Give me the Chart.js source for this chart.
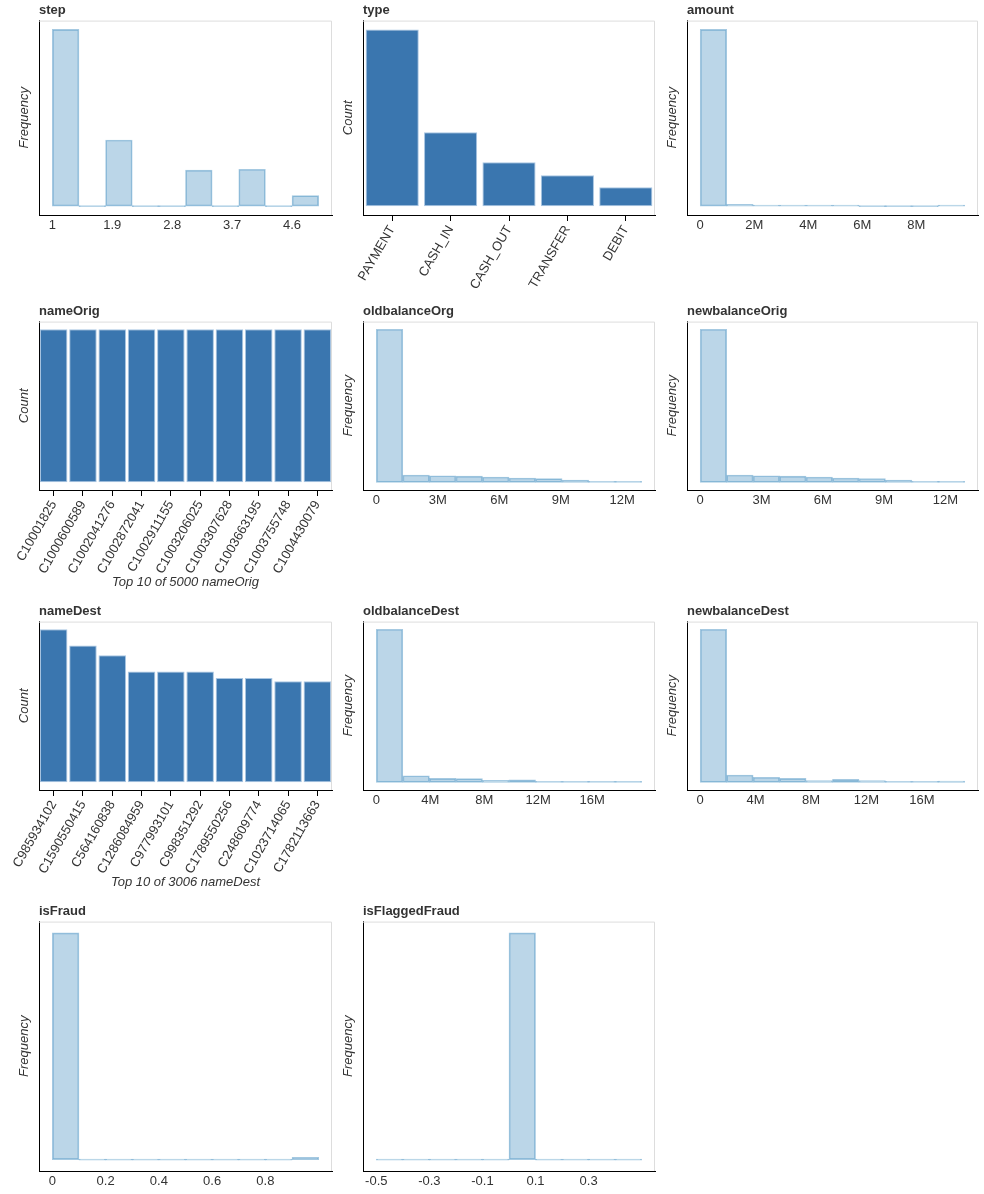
<!DOCTYPE html>
<html>
<head>
<meta charset="utf-8">
<title>Transaction columns overview</title>
<script src="https://cdn.jsdelivr.net/npm/chart.js@4.4.0/dist/chart.umd.min.js"></script>
<style>
  html, body { margin: 0; background: #fff; overflow: hidden; }
  #grid { position: relative; width: 984px; height: 1194px; overflow: hidden; }
  .cell { position: absolute; }
</style>
</head>
<body>
<div id="grid"></div>
<script>
// ---------- data ----------
const stepRange = [1, 5];
const stepCounts = [2708, 0, 1014, 0, 0, 552, 0, 565, 0, 161];
const stepTicks = [1, 1.9, 2.8, 3.7, 4.6];

const typeLabels = ["PAYMENT", "CASH_IN", "CASH_OUT", "TRANSFER", "DEBIT"];
const typeCounts = [2565, 1072, 639, 449, 275];

const amountRange = [0, 9.8e6];
const amountCounts = [4935, 52, 8, 2, 1, 1, 0, 0, 0, 1];
const amountTicks = [0, 2e6, 4e6, 6e6, 8e6];

const nameOrigLabels = ["C10001825", "C1000600589", "C1002041276", "C1002872041", "C1002911155",
    "C1003206025", "C1003307628", "C1003663195", "C1003755748", "C1004430079"];
const nameOrigCounts = [1, 1, 1, 1, 1, 1, 1, 1, 1, 1];

const oldbalanceOrgRange = [0, 12.95e6];
const oldbalanceOrgCounts = [4017, 193, 173, 165, 141, 113, 96, 60, 26, 16];
const newbalanceOrigRange = [0, 12.95e6];
const newbalanceOrigCounts = [4022, 193, 173, 165, 141, 113, 100, 60, 20, 13];
const origTicks = [0, 3e6, 6e6, 9e6, 12e6];

const nameDestLabels = ["C985934102", "C1590550415", "C564160838", "C1286084959", "C977993101",
    "C998351292", "C1789550256", "C248609774", "C1023714065", "C1782113663"];
const nameDestCounts = [47, 42, 39, 34, 34, 34, 32, 32, 31, 31];

const oldbalanceDestRange = [0, 19.67e6];
const oldbalanceDestCounts = [4375, 188, 114, 105, 57, 74, 28, 9, 28, 22];
const newbalanceDestRange = [0, 19.1e6];
const newbalanceDestCounts = [4297, 206, 142, 112, 47, 84, 47, 9, 17, 39];
const destTicks = [0, 4e6, 8e6, 12e6, 16e6];

const isFraudRange = [0, 1];
const isFraudCounts = [4950, 0, 0, 0, 0, 0, 0, 0, 0, 50];
const isFraudTicks = [0, 0.2, 0.4, 0.6, 0.8];

const isFlaggedFraudRange = [-0.5, 0.5];
const isFlaggedFraudCounts = [0, 0, 0, 0, 0, 5000, 0, 0, 0, 0];
const isFlaggedFraudTicks = [-0.5, -0.3, -0.1, 0.1, 0.3];

// ---------- helpers ----------
Chart.defaults.font.family = '"Liberation Sans", Arial, Helvetica, sans-serif';
Chart.defaults.color = "#333";

const plainFmt = v => String(v);
const millionFmt = v => (v === 0 ? "0" : (v / 1e6) + "M");

// light grey top/right edges of the plot box
const framePlugin = {
    id: "frame",
    beforeDatasetsDraw(chart) {
        const { ctx, chartArea: a } = chart;
        ctx.save();
        ctx.strokeStyle = "#dddddd";
        ctx.lineWidth = 1;
        ctx.beginPath();
        ctx.moveTo(a.left, a.top + 0.5);
        ctx.lineTo(a.right - 0.5, a.top + 0.5);
        ctx.lineTo(a.right - 0.5, a.bottom);
        ctx.stroke();
        ctx.restore();
    }
};

function yAxis(text, maxCount) {
    return {
        min: -0.05 * maxCount,
        max: 1.05 * maxCount,
        ticks: { display: false },
        grid: { display: false },
        border: { display: true, color: "#000", width: 1 },
        title: {
            display: true, text: text, color: "#333",
            font: { size: 13, style: "italic" },
            padding: { top: 17, bottom: 0 }
        },
        afterFit: s => { s.width = 39; }
    };
}

function baseOptions(title, bottomPad) {
    return {
        responsive: true,
        maintainAspectRatio: false,
        animation: false,
        layout: { padding: { top: 0, right: 4, bottom: bottomPad, left: 0 } },
        plugins: {
            legend: { display: false },
            tooltip: { enabled: false },
            title: {
                display: true, text: title, align: "start", fullSize: false,
                color: "#333", font: { size: 13, weight: "bold" },
                padding: { top: 3, bottom: 2 }
            }
        }
    };
}

function histogram(canvas, title, range, counts, tickVals, fmt) {
    const lo = range[0], hi = range[1];
    const w = (hi - lo) / counts.length;
    const pad = 0.05 * (hi - lo);
    const options = baseOptions(title, 8);
    options.scales = {
        x: {
            type: "linear",
            min: lo - pad,
            max: hi + pad,
            offset: false,
            grid: { display: false, drawTicks: false, offset: false },
            border: { display: true, color: "#000", width: 1 },
            ticks: { maxRotation: 0, autoSkip: false, padding: 3, font: { size: 13 }, color: "#333", callback: fmt },
            afterBuildTicks: s => { s.ticks = tickVals.map(v => ({ value: v })); },
            afterFit: s => { s.height = 20; }
        },
        y: yAxis("Frequency", Math.max(...counts))
    };
    new Chart(canvas, {
        type: "bar",
        data: {
            datasets: [{
                data: counts.map((c, i) => ({ x: lo + (i + 0.5) * w, y: c })),
                backgroundColor: "rgba(31,119,180,0.3)",
                borderColor: "rgba(31,119,180,0.4)",
                borderWidth: 1,
                borderSkipped: false,
                barPercentage: 1,
                categoryPercentage: 1,
                minBarLength: 1
            }]
        },
        options: options,
        plugins: [framePlugin]
    });
}

function countBars(canvas, title, labels, counts, xTitle, axisHeight, barPct) {
    const options = baseOptions(title, 0);
    options.scales = {
        x: {
            type: "category",
            offset: true,
            grid: { display: true, drawOnChartArea: false, drawTicks: true, tickLength: 6, color: "#000", offset: false },
            border: { display: true, color: "#000", width: 1 },
            ticks: { autoSkip: false, minRotation: 60, maxRotation: 60, padding: 2, font: { size: 13 }, color: "#333" },
            title: xTitle
                ? { display: true, text: xTitle, color: "#333", font: { size: 13, style: "italic" }, padding: { top: 0, bottom: 0 } }
                : { display: false },
            afterFit: s => { s.height = axisHeight; }
        },
        y: yAxis("Count", Math.max(...counts))
    };
    new Chart(canvas, {
        type: "bar",
        data: {
            labels: labels,
            datasets: [{
                data: counts,
                backgroundColor: "#3a76af",
                borderColor: "#a9c6e2",
                borderWidth: 1,
                borderSkipped: false,
                barPercentage: barPct,
                categoryPercentage: 1
            }]
        },
        options: options,
        plugins: [framePlugin]
    });
}

// ---------- layout ----------
const colLeft = [0, 324, 648];
const colWidth = [336, 335, 334];
const rowTop = [0, 301, 601, 901];

function cell(col, row, height) {
    const div = document.createElement("div");
    div.className = "cell";
    div.style.left = colLeft[col] + "px";
    div.style.top = rowTop[row] + "px";
    div.style.width = colWidth[col] + "px";
    div.style.height = height + "px";
    const canvas = document.createElement("canvas");
    div.appendChild(canvas);
    document.getElementById("grid").appendChild(div);
    return canvas;
}

// histogram cells carry 8px of bottom layout padding below the 20px axis
histogram(cell(0, 0, 243), "step", stepRange, stepCounts, stepTicks, plainFmt);
countBars(cell(1, 0, 295), "type", typeLabels, typeCounts, null, 80, 0.91);
histogram(cell(2, 0, 243), "amount", amountRange, amountCounts, amountTicks, millionFmt);

countBars(cell(0, 1, 289), "nameOrig", nameOrigLabels, nameOrigCounts, "Top 10 of 5000 nameOrig", 100, 0.94);
histogram(cell(1, 1, 217), "oldbalanceOrg", oldbalanceOrgRange, oldbalanceOrgCounts, origTicks, millionFmt);
histogram(cell(2, 1, 217), "newbalanceOrig", newbalanceOrigRange, newbalanceOrigCounts, origTicks, millionFmt);

countBars(cell(0, 2, 289), "nameDest", nameDestLabels, nameDestCounts, "Top 10 of 3006 nameDest", 100, 0.94);
histogram(cell(1, 2, 217), "oldbalanceDest", oldbalanceDestRange, oldbalanceDestCounts, destTicks, millionFmt);
histogram(cell(2, 2, 217), "newbalanceDest", newbalanceDestRange, newbalanceDestCounts, destTicks, millionFmt);

histogram(cell(0, 3, 298), "isFraud", isFraudRange, isFraudCounts, isFraudTicks, plainFmt);
histogram(cell(1, 3, 298), "isFlaggedFraud", isFlaggedFraudRange, isFlaggedFraudCounts, isFlaggedFraudTicks, plainFmt);
</script>
</body>
</html>
